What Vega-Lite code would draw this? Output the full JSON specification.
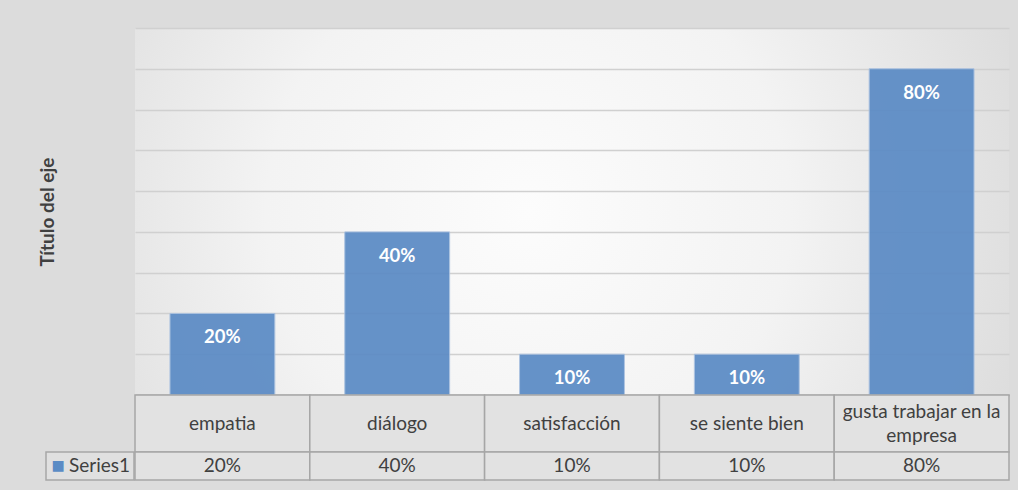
{
  "$schema": "https://vega.github.io/schema/vega-lite/v6.json",
  "background": "#dcdcdc",
  "padding": {"left": 38, "top": 28, "right": 11, "bottom": 10},
  "config": {"font": "Lato", "view": {"stroke": null}, "concat": {"spacing": 0}},
  "datasets": {
    "d": [
      {"cat": "empatia", "label": "empatia", "lines": 1, "v": 0.2},
      {"cat": "diálogo", "label": "diálogo", "lines": 1, "v": 0.4},
      {"cat": "satisfacción", "label": "satisfacción", "lines": 1, "v": 0.1},
      {"cat": "se siente bien", "label": "se siente bien", "lines": 1, "v": 0.1},
      {"cat": "gusta trabajar en la empresa", "label": "gusta trabajar en la\nempresa", "lines": 2, "v": 0.8}
    ]
  },
  "spacing": -4,
  "hconcat": [
    {
      "spacing": 0,
      "bounds": "flush",
      "vconcat": [
        {
          "width": 88,
          "height": 424,
          "data": {"values": [{"t": "Título del eje"}]},
          "mark": {"type": "text", "angle": 270, "fontWeight": "bold", "fontSize": 19, "color": "#404040", "dx": 28, "dy": -42, "baseline": "middle"},
          "encoding": {"text": {"field": "t"}}
        },
        {
          "width": 88,
          "height": 28,
          "view": {"fill": "#e0e0e0", "stroke": "#a6a6a6", "strokeWidth": 1.5},
          "data": {"values": [{"s": "Series1", "k": "■"}]},
          "layer": [
            {"mark": {"type": "text", "font": "DejaVu Sans", "fontSize": 14, "color": "#5b8bc5", "dx": -32, "baseline": "middle"}, "encoding": {"text": {"field": "k"}}},
            {"mark": {"type": "text", "fontSize": 19, "color": "#404040", "dx": -21, "align": "left", "baseline": "middle"}, "encoding": {"text": {"field": "s"}}}
          ]
        }
      ]
    },
    {
      "spacing": 0,
      "bounds": "flush",
      "vconcat": [
        {
          "width": 874,
          "height": 367,
          "view": {"stroke": null, "fill": {"gradient": "radial", "x1": 0.45, "y1": 0.5, "r1": 0, "x2": 0.45, "y2": 0.5, "r2": 0.6, "stops": [{"offset": 0, "color": "#fcfcfc"}, {"offset": 0.5, "color": "#f3f3f3"}, {"offset": 1, "color": "#dcdcdc"}]}},
          "data": {"name": "d"},
          "encoding": {
            "x": {"field": "cat", "type": "nominal", "sort": null, "scale": {"paddingInner": 0.4, "paddingOuter": 0.2}, "axis": {"labels": false, "ticks": false, "title": null, "domainColor": "#8c8c8c", "domainWidth": 1.5}},
            "y": {"field": "v", "type": "quantitative", "scale": {"domain": [0, 0.9], "nice": false}, "axis": {"title": null, "labels": false, "ticks": false, "domain": false, "grid": true, "gridColor": "#d0d0d0", "gridWidth": 1.5, "values": [0.1, 0.2, 0.3, 0.4, 0.5, 0.6, 0.7, 0.8, 0.9]}}
          },
          "layer": [
            {"mark": {"type": "bar", "color": "#5b8bc5", "opacity": 0.93, "stroke": "#a9c1e0", "strokeWidth": 1}},
            {"mark": {"type": "text", "baseline": "middle", "dy": 24, "color": "white", "fontWeight": "bold", "fontSize": 18.5}, "encoding": {"text": {"field": "v", "format": ".0%"}}}
          ]
        },
        {
          "width": 874,
          "height": 57,
          "data": {"name": "d"},
          "encoding": {"x": {"field": "cat", "type": "nominal", "sort": null, "scale": {"paddingInner": 0, "paddingOuter": 0}, "axis": null}},
          "layer": [
            {"mark": {"type": "bar", "fill": "#e2e2e2", "stroke": "#a6a6a6", "strokeWidth": 1.5}},
            {"transform": [{"filter": "datum.lines == 1"}], "mark": {"type": "text", "fontSize": 19, "color": "#404040", "baseline": "middle"}, "encoding": {"text": {"field": "label"}}},
            {"transform": [{"filter": "datum.lines == 2"}], "mark": {"type": "text", "fontSize": 19, "color": "#404040", "lineBreak": "\n", "lineHeight": 24, "baseline": "middle", "dy": -12}, "encoding": {"text": {"field": "label"}}}
          ]
        },
        {
          "width": 874,
          "height": 28,
          "data": {"name": "d"},
          "encoding": {"x": {"field": "cat", "type": "nominal", "sort": null, "scale": {"paddingInner": 0, "paddingOuter": 0}, "axis": null}},
          "layer": [
            {"mark": {"type": "bar", "fill": "#e2e2e2", "stroke": "#a6a6a6", "strokeWidth": 1.5}},
            {"mark": {"type": "text", "fontSize": 19, "color": "#404040", "baseline": "middle"}, "encoding": {"text": {"field": "v", "format": ".0%"}}}
          ]
        }
      ]
    }
  ]
}
